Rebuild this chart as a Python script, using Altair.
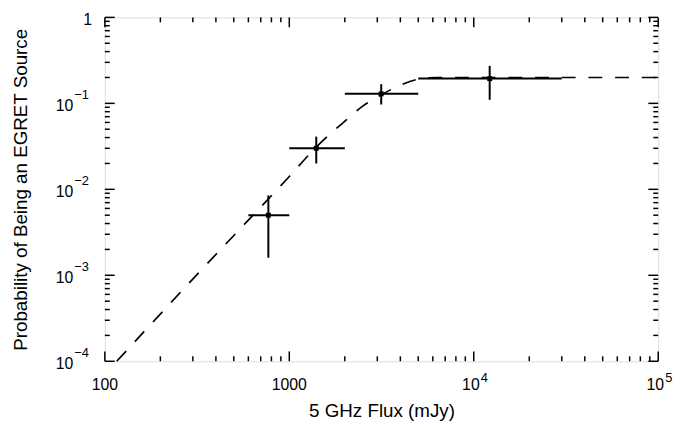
import altair as alt
import pandas as pd

W, H = 560, 348
FONT = "Liberation Sans"

# measured points with their ranges
flux = [770, 1400, 3150, 12200]
flux_lo = [600, 1000, 2000, 5000]
flux_hi = [1000, 2000, 5000, 30000]
prob = [0.0050, 0.030, 0.129, 0.194]
prob_lo = [0.0016, 0.020, 0.097, 0.110]
prob_hi = [0.0085, 0.041, 0.167, 0.273]

# dashed model curve
curve_flux = [116, 316, 1000, 1413, 1995, 2512, 3162, 3981, 5012, 6310, 10000, 100000]
curve_prob = [1.0e-4, 1.02e-3, 0.0141, 0.0316, 0.0617, 0.0933, 0.126, 0.162, 0.191, 0.200, 0.200, 0.200]

# axis ticks and labels
x_major = [100, 1000, 10000, 100000]
x_minor = [m * 10 ** k for k in (2, 3, 4) for m in range(2, 10)]
y_major = [1e-4, 1e-3, 1e-2, 1e-1, 1]
y_minor = [m * 10.0 ** k for k in (-4, -3, -2, -1) for m in range(2, 10)]
x_lab = ["100", "1000", "10", "10"]
x_sup = ["", "", "4", "5"]
y_lab = ["10", "10", "10", "10", "1"]
y_sup = ["\u22124", "\u22123", "\u22122", "\u22121", ""]

xs = alt.Scale(type="log", domain=[100, 100000], nice=False)
ys = alt.Scale(type="log", domain=[1e-4, 1], nice=False)

pts = pd.DataFrame({"f": flux, "flo": flux_lo, "fhi": flux_hi,
                    "p": prob, "plo": prob_lo, "phi": prob_hi})
curve_df = pd.DataFrame({"f": curve_flux, "p": curve_prob})

curve = alt.Chart(curve_df).mark_line(
    color="black", strokeWidth=1.7, strokeDash=[14, 13], interpolate="monotone"
).encode(
    x=alt.X("f:Q", scale=xs, axis=alt.Axis(
        title="5 GHz Flux (mJy)", labels=False, ticks=False, domain=False, grid=False,
        titleFont=FONT, titleFontSize=19, titleFontWeight="normal", titleColor="black",
        titlePadding=41)),
    y=alt.Y("p:Q", scale=ys, axis=alt.Axis(
        title="Probability of Being an EGRET Source", labels=False, ticks=False,
        domain=False, grid=False, titleFont=FONT, titleFontSize=19,
        titleFontWeight="normal", titleColor="black", titlePadding=75)),
)

hbar = alt.Chart(pts).mark_rule(color="black", strokeWidth=2).encode(
    x=alt.X("flo:Q", scale=xs), x2="fhi:Q", y=alt.Y("p:Q", scale=ys))
vbar = alt.Chart(pts).mark_rule(color="black", strokeWidth=2).encode(
    x=alt.X("f:Q", scale=xs), y=alt.Y("plo:Q", scale=ys), y2="phi:Q")
dots = alt.Chart(pts).mark_square(color="black", size=25, opacity=1).encode(
    x=alt.X("f:Q", scale=xs), y=alt.Y("p:Q", scale=ys))

def xticks(vals, ln):
    d = pd.DataFrame({"v": vals})
    b = alt.Chart(d).mark_rule(color="black", strokeWidth=1.5).encode(
        x=alt.X("v:Q", scale=xs), y=alt.value(H), y2=alt.value(H - ln))
    t = alt.Chart(d).mark_rule(color="black", strokeWidth=1.5).encode(
        x=alt.X("v:Q", scale=xs), y=alt.value(0), y2=alt.value(ln))
    return b + t

def yticks(vals, ln):
    d = pd.DataFrame({"v": vals})
    l = alt.Chart(d).mark_rule(color="black", strokeWidth=1.5).encode(
        y=alt.Y("v:Q", scale=ys), x=alt.value(0), x2=alt.value(ln))
    r = alt.Chart(d).mark_rule(color="black", strokeWidth=1.5).encode(
        y=alt.Y("v:Q", scale=ys), x=alt.value(W), x2=alt.value(W - ln))
    return l + r

xl = pd.DataFrame({"v": x_major, "t": x_lab, "s": x_sup})
yl = pd.DataFrame({"v": y_major, "t": y_lab, "s": y_sup})
xl_plain = xl[xl.s == ""]
xl_exp = xl[xl.s != ""]
yl_plain = yl[yl.s == ""]
yl_exp = yl[yl.s != ""]

tx = dict(font=FONT, color="black", baseline="alphabetic")
xlab1 = alt.Chart(xl_plain).mark_text(align="center", fontSize=16, **tx).encode(
    x=alt.X("v:Q", scale=xs), y=alt.value(H + 29), text="t:N")
xlab2 = alt.Chart(xl_exp).mark_text(align="right", fontSize=16, dx=6, **tx).encode(
    x=alt.X("v:Q", scale=xs), y=alt.value(H + 29), text="t:N")
xlab3 = alt.Chart(xl_exp).mark_text(align="left", fontSize=13, dx=7, **tx).encode(
    x=alt.X("v:Q", scale=xs), y=alt.value(H + 21), text="s:N")
ylab1 = alt.Chart(yl_plain).mark_text(align="right", fontSize=16, dy=8, **tx).encode(
    y=alt.Y("v:Q", scale=ys), x=alt.value(-13), text="t:N")
ylab2 = alt.Chart(yl_exp).mark_text(align="right", fontSize=16, dy=8, **tx).encode(
    y=alt.Y("v:Q", scale=ys), x=alt.value(-32), text="t:N")
ylab3 = alt.Chart(yl_exp).mark_text(align="left", fontSize=13, dy=-4, **tx).encode(
    y=alt.Y("v:Q", scale=ys), x=alt.value(-31), text="s:N")

chart = alt.layer(
    curve, xticks(x_major, 10), xticks(x_minor, 5), yticks(y_major, 10), yticks(y_minor, 5),
    hbar, vbar, dots, xlab1, xlab2, xlab3, ylab1, ylab2, ylab3,
).properties(
    width=W, height=H,
    padding={"left": 98, "top": 7, "right": 18, "bottom": 62},
    autosize=alt.AutoSizeParams(type="none"),
).configure_view(stroke="black", strokeWidth=2).configure(background="white")

chart.save("out.html", embed_options={"renderer": "svg", "actions": False})
